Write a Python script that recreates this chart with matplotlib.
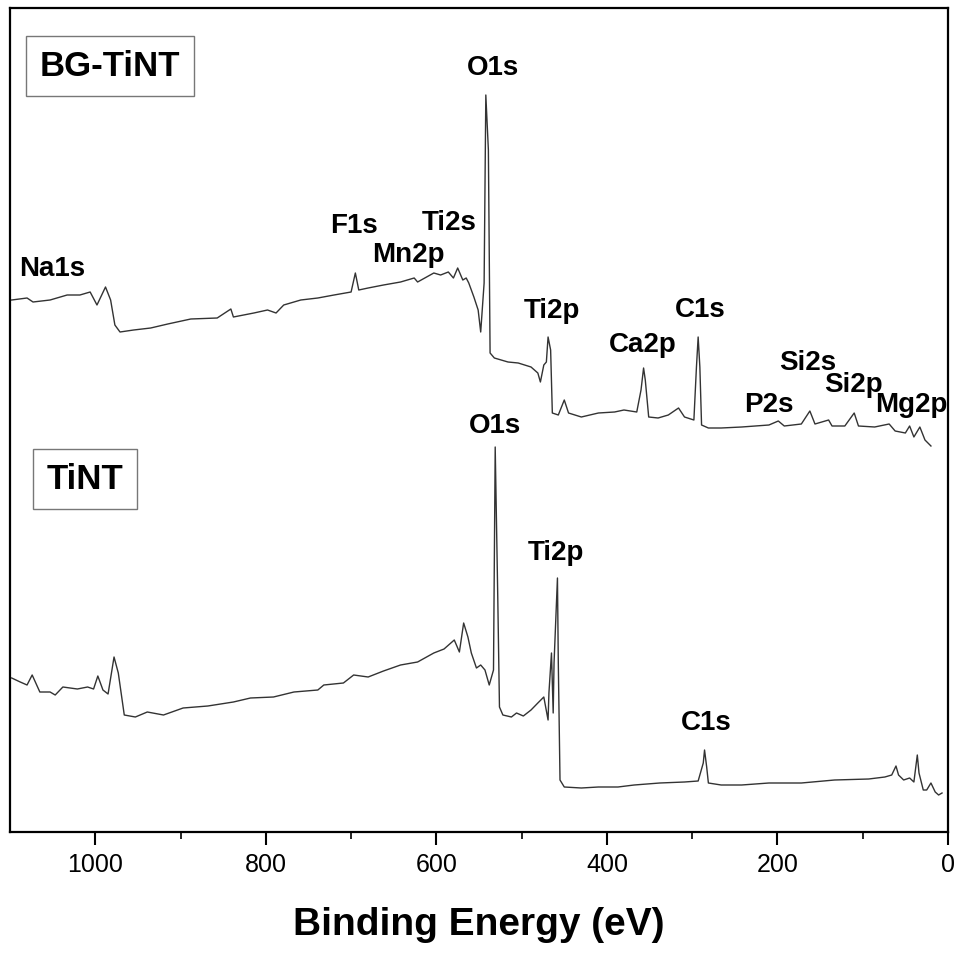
import matplotlib
matplotlib.use("Agg")
import matplotlib.pyplot as plt

plt.rcParams['font.family'] = ['Liberation Sans', 'DejaVu Sans']

# BG-TiNT survey spectrum (binding energy eV, intensity a.u.)
bg_energy = [1098, 1080, 1073, 1053, 1033, 1018, 1006, 998, 988, 982, 977, 971,
             955, 935, 915, 888, 857, 841, 838, 814, 798, 788, 779, 759, 739,
             720, 700, 695, 691, 680, 662, 642, 626, 622, 603, 595, 586, 580,
             575, 569, 565, 562, 556, 551, 548, 544, 542, 539, 537, 532, 516,
             504, 489, 481, 478, 474, 471, 469, 466, 464, 457, 450, 445, 430,
             410, 391, 380, 365, 360, 357, 355, 351, 340, 328, 316, 309, 298,
             295, 293, 291, 289, 281, 266, 242, 210, 199, 192, 172, 162, 156,
             140, 136, 121, 110, 105, 86, 69, 62, 50, 45, 40, 33, 27, 20]
bg_counts = [532, 534, 530, 532, 537, 537, 540, 527, 545, 532, 507, 500,
             502, 504, 508, 513, 514, 523, 515, 519, 522, 519, 527, 532, 534,
             537, 540, 559, 542, 544, 547, 550, 554, 550, 559, 557, 560, 554,
             564, 552, 554, 549, 535, 522, 500, 549, 737, 682, 479, 474, 470,
             469, 465, 459, 450, 467, 470, 495, 482, 419, 417, 432, 419, 415,
             419, 420, 422, 420, 442, 464, 452, 415, 414, 417, 424, 415, 412,
             465, 495, 465, 407, 404, 404, 405, 407, 411, 406, 408, 421, 408,
             412, 406, 406, 419, 406, 405, 408, 401, 399, 406, 395, 405, 392, 386]

# TiNT survey spectrum
ti_energy = [1098, 1088, 1080, 1074, 1065, 1053, 1047, 1038, 1021, 1009, 1002,
             997, 991, 985, 978, 973, 966, 953, 939, 920, 897, 868, 838, 818,
             791, 767, 739, 732, 709, 697, 680, 662, 642, 622, 603, 591, 579,
             573, 568, 563, 559, 553, 548, 543, 538, 533, 531, 528, 526, 522,
             512, 506, 498, 489, 481, 474, 469, 468, 465, 463, 462, 458, 457,
             455, 450, 430, 410, 387, 368, 338, 309, 293, 287, 285.5, 283, 281,
             266, 242, 210, 172, 133, 93, 74, 66, 61, 58, 52, 45, 40, 36, 34,
             29, 25, 20, 15, 11, 7]
ti_counts = [154, 150, 147, 157, 140, 140, 137, 145, 143, 145, 143,
             156, 142, 138, 175, 159, 117, 115, 120, 117, 124, 126, 130, 134,
             135, 140, 142, 147, 149, 157, 155, 161, 167, 170, 179, 183, 192,
             180, 209, 195, 179, 164, 167, 162, 147, 162, 385, 235, 125, 117,
             115, 119, 116, 122, 129, 135, 112, 139, 179, 119, 169, 254, 169,
             52, 45, 44, 45, 45, 47, 49, 50, 51, 69, 82, 65, 49,
             47, 47, 49, 49, 52, 53, 55, 57, 66, 57, 52, 54, 50, 77, 59,
             42, 42, 49, 40, 37, 39]

# peak labels: (text, energy, intensity baseline)
peak_labels = [("O1s", 533.5, 757), ("F1s", 697, 599), ("Ti2s", 585, 602),
               ("Mn2p", 633, 570), ("Na1s", 1050, 556), ("Ti2p", 464, 514),
               ("C1s", 291, 515), ("Ca2p", 358, 480), ("Si2s", 164.5, 462),
               ("Si2p", 110.5, 440), ("P2s", 210, 420), ("Mg2p", 43.5, 420),
               ("O1s", 531, 399), ("Ti2p", 459.5, 272), ("C1s", 283, 102)]

sample_names = ["BG-TiNT", "TiNT"]
sample_pos = [(983, 766), (1012, 353)]

fig = plt.figure(figsize=(9.6, 9.55), dpi=100)
ax = fig.add_axes([10/960, 123/955, 938/960, 824/955])

ax.plot(bg_energy, bg_counts, color='#333333', lw=1.0)
ax.plot(ti_energy, ti_counts, color='#333333', lw=1.0)

for txt, e, c in peak_labels:
    ax.text(e, c, txt, ha='center', va='baseline', fontsize=20, fontweight='bold')

for name, (e, c) in zip(sample_names, sample_pos):
    ax.text(e, c, name, ha='center', va='center', fontsize=25, fontweight='bold',
            bbox=dict(boxstyle='square,pad=0.4', fc='white', ec='#777777', lw=1.0))

ax.set_xlim(1100, 0)
ax.set_ylim(0, 824)
ax.set_yticks([])
ax.set_xticks([1000, 800, 600, 400, 200, 0])
ax.set_xticks([900, 700, 500, 300, 100], minor=True)
ax.tick_params(axis='x', which='major', direction='out', length=9, width=1.5,
               labelsize=18, pad=6)
ax.tick_params(axis='x', which='minor', direction='out', length=5, width=1.2)
for s in ax.spines.values():
    s.set_linewidth(1.6)

ax.set_xlabel("Binding Energy (eV)", fontsize=28, fontweight='bold', labelpad=22)

fig.savefig("out.png", dpi=100)
